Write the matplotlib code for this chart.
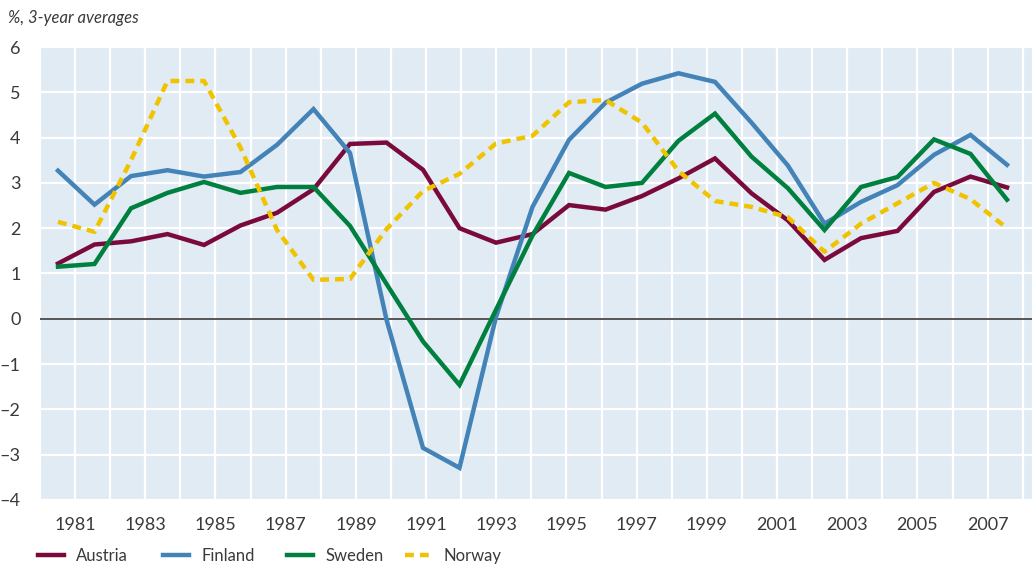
import numpy as np
from matplotlib import pyplot as plt
from matplotlib.lines import Line2D

plt.rcParams['font.family'] = ['Lato', 'DejaVu Sans']

years = list(range(1981, 2008))
austria = [1.22, 1.64, 1.71, 1.87, 1.63, 2.06, 2.34, 2.86, 3.86, 3.89, 3.29, 2.0, 1.68,
           1.87, 2.51, 2.41, 2.71, 3.1, 3.54, 2.77, 2.17, 1.3, 1.78, 1.94, 2.8, 3.14, 2.9]
finland = [3.27, 2.52, 3.15, 3.28, 3.14, 3.24, 3.84, 4.63, 3.66, -0.02, -2.85, -3.29, 0.04,
           2.47, 3.95, 4.77, 5.19, 5.42, 5.23, 4.33, 3.38, 2.1, 2.58, 2.95, 3.62, 4.06, 3.4]
sweden = [1.15, 1.21, 2.44, 2.78, 3.02, 2.78, 2.91, 2.91, 2.05, 0.77, -0.5, -1.46, 0.2,
          1.84, 3.22, 2.91, 3.0, 3.93, 4.53, 3.58, 2.88, 1.96, 2.91, 3.13, 3.96, 3.64, 2.63]
norway = [2.14, 1.92, 3.5, 5.25, 5.25, 3.78, 1.96, 0.86, 0.88, 1.98, 2.82, 3.2, 3.87,
          4.04, 4.78, 4.83, 4.33, 3.26, 2.6, 2.47, 2.24, 1.48, 2.1, 2.55, 3.0, 2.64, 2.0]
yticks = list(range(-4, 7))

bg = '#e1ebf4'
text_col = '#3a3a3a'
series = [
    ('Austria', austria, '#7a0a3c', '-'),
    ('Finland', finland, '#4383b7', '-'),
    ('Sweden', sweden, '#00803f', '-'),
    ('Norway', norway, '#f0c300', (0, (2.0, 1.35))),
]
legend_x = [38, 163, 287, 405]  # px where each legend entry starts

fig = plt.figure(figsize=(10.32, 5.67), dpi=100)
ax = fig.add_axes([40 / 1032, 1 - 500 / 567, 1 - 40 / 1032, 453 / 567])

# grid axis: one cell per year, labels on every other boundary
gx = ax.twiny()
gx.set_xlim(0, 992 / 35.1)
gx.set_xticks(range(0, 29))
gx.set_xticklabels([str(1980 + i) if i % 2 == 1 else '' for i in range(29)])
gx.grid(True, axis='x', color='white', linewidth=1.6)
gx.xaxis.set_ticks_position('bottom')
gx.tick_params(axis='x', length=0, labeltop=False, labelbottom=True, pad=12,
               labelsize=13, labelcolor=text_col)
for s in gx.spines.values():
    s.set_visible(False)
gx.set_zorder(ax.get_zorder() - 1)
ax.patch.set_visible(False)
gx.patch.set_visible(True)
gx.patch.set_facecolor(bg)

ax.set_ylim(-4, 6)
ax.set_yticks(yticks)
ax.set_yticklabels([str(v).replace('-', '\u2013') for v in yticks])
ax.grid(True, axis='y', color='white', linewidth=1.6)
ax.set_axisbelow(True)
ax.tick_params(axis='y', length=0, pad=14, labelsize=13, labelcolor=text_col)
ax.set_xlim(years[0] - 18 / 36.5, years[0] + 974 / 36.5)
ax.set_xticks([])
for s in ax.spines.values():
    s.set_visible(False)

ax.axhline(0, color='#555555', linewidth=1.4, zorder=2)

for (name, vals, col, ls), lx in zip(series, legend_x):
    ax.plot(years, vals, color=col, linewidth=3.2, linestyle=ls, zorder=3,
            solid_joinstyle='miter')
    h = Line2D([], [], color=col, linewidth=3.2, linestyle=ls, label=name)
    leg = fig.legend(handles=[h], loc='center left', bbox_to_anchor=(lx / 1032, 1 - 556 / 567),
                     frameon=False, fontsize=12, handlelength=1.55, handletextpad=0.75,
                     borderpad=0, borderaxespad=0, labelcolor=text_col)

fig.text(8 / 1032, 1 - 18 / 567, '%, 3-year averages', fontsize=12, style='italic',
         color=text_col, va='center', ha='left')

fig.savefig('out.png', dpi=100, facecolor='white')
